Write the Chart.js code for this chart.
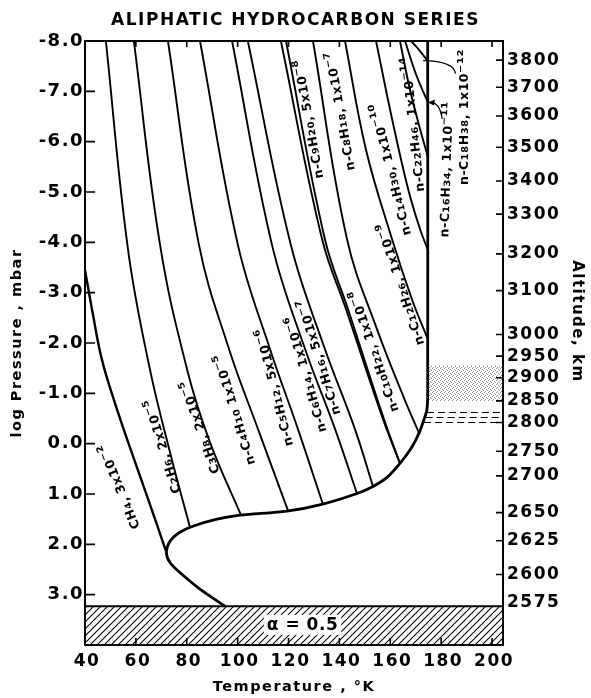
<!DOCTYPE html>
<html>
<head>
<meta charset="utf-8">
<title>Aliphatic Hydrocarbon Series</title>
<script src="https://cdn.jsdelivr.net/npm/chart.js@4.4.1/dist/chart.umd.min.js"></script>
<style>
html,body{margin:0;padding:0;background:#fff;overflow:hidden;}
canvas{display:block;}
</style>
</head>
<body>
<canvas id="chart" width="591" height="698"></canvas>
<script>
// ---------- axis ticks ----------
const temperatureTicks = [40, 60, 80, 100, 120, 140, 160, 180, 200];
const logPressureTicks = [-8, -7, -6, -5, -4, -3, -2, -1, 0, 1, 2, 3];
const altitudeTickLabels = ['3800','3700','3600','3500','3400','3300','3200','3100','3000','2950','2900','2850','2800','2750','2700','2650','2625','2600','2575'];
const altitudeTickLogP = [-7.62,-7.08,-6.51,-5.89,-5.22,-4.56,-3.77,-3.04,-2.17,-1.74,-1.31,-0.85,-0.42,0.15,0.64,1.37,1.93,2.60,3.16];

// ---------- temperature profile ----------
const profileT    = [95.0, 85.2, 77.3, 73.4, 72.0, 73.4, 77.3, 82.4, 91.9, 100.9, 119.4, 133.5, 146.9, 153.2, 158.7, 163.8, 168.2, 171.3, 173.3, 174.4, 174.7, 174.7];
const profileLogP = [3.23, 2.89, 2.56, 2.36, 2.16, 1.94, 1.76, 1.64, 1.50, 1.42, 1.34, 1.20, 0.99, 0.85, 0.67, 0.39, 0.09, -0.21, -0.49, -0.68, -0.98, -8.0];

// ---------- saturation curves (T in K, log P in mbar) ----------
const ch4T  = [40.0, 43.0, 46.5, 51.5, 57.5, 64.8, 72.0];
const ch4P  = [-3.45, -2.6, -1.7, -0.85, 0.05, 1.1, 2.16];
const c2h6T = [48.2, 56.9, 65.5, 73.4, 81.3];
const c2h6P = [-8, -3.86, -1.48, 0.17, 1.67];
const c3h8T = [59.2, 69.5, 80.1, 89.1, 101.3];
const c3h8P = [-8, -3.95, -1.48, -0.03, 1.42];
const c4T   = [72.6, 84.8, 96.6, 108.0, 119.8];
const c4P   = [-8, -3.95, -1.88, -0.29, 1.33];
const c5T   = [85.2, 100.1, 112.7, 123.7, 133.5];
const c5P   = [-8, -3.95, -1.88, -0.29, 1.20];
const c6T   = [97.8, 113.5, 126.5, 138.3, 146.9];
const c6P   = [-8, -3.95, -1.88, -0.29, 0.99];
const c7T   = [104.0, 120.9, 134.3, 146.1, 153.2];
const c7P   = [-8, -3.95, -1.88, -0.29, 0.85];
const c9T   = [117.0, 133.2, 142.6, 157.1, 163.8];
const c9P   = [-8, -4.06, -2.67, -0.49, 0.39];
const c8T   = [119.0, 134.3, 143.4, 157.5, 163.8];
const c8P   = [-8, -4.06, -2.67, -0.49, 0.39];
const c10T  = [129.6, 143.0, 154.8, 165.6, 171.3];
const c10P  = [-8, -4.06, -2.27, -0.88, -0.21];
const c12T  = [142.2, 150.4, 160.7, 168.5, 174.7];
const c12P  = [-8, -5.85, -4.06, -2.87, -2.08];
const c14T  = [154.4, 160.7, 167.0, 171.7, 174.7];
const c14P  = [-8, -6.45, -5.06, -4.26, -3.86];
const c22T  = [163.8, 167.7, 171.7, 174.7];
const c22P  = [-8, -7.04, -6.25, -5.71];
const c16T  = [165.8, 170.1, 174.7];
const c16P  = [-8, -7.34, -6.79];
const c18T  = [168.2, 171.7, 174.7];
const c18P  = [-8, -7.80, -7.60];

// ---------- shaded regions ----------
const albedoT = [40, 204.3];          // alpha = 0.5 layer
const albedoTopLogP = 3.23;
const albedoBottomLogP = 4.0;
const cloudT = [174.8, 204.3];        // stippled haze layer
const cloudTopLogP = -1.545;
const cloudBottomLogP = -0.85;
const dashStartT = [174.4, 173.9, 173.3];
const dashLogP = [-0.62, -0.52, -0.42];
const dashEndT = 204.3;

// ---------- curve labels ----------
const curveLabelText = [
  'CH₄, 3x10⁻²', 'C₂H₆, 2x10⁻⁵', 'C₃H₈, 2x10⁻⁵', 'n-C₄H₁₀ 1x10⁻⁵', 'n-C₅H₁₂, 5x10⁻⁶',
  'n-C₆H₁₄, 1x10⁻⁶', 'n-C₇H₁₆, 5x10⁻⁷', 'n-C₁₀H₂₂, 1x10⁻⁸', 'n-C₁₂H₂₆, 1x10⁻⁹', 'n-C₁₄H₃₀, 1x10⁻¹⁰',
  'n-C₂₂H₄₆, 1x10⁻¹⁴', 'n-C₉H₂₀, 5x10⁻⁸', 'n-C₈H₁₈, 1x10⁻⁷', 'n-C₁₆H₃₄, 1x10⁻¹¹', 'n-C₁₈H₃₈, 1x10⁻¹²'
];
// placement of those labels (layout: data coordinates + rotation in degrees)
const curveLabelPlacement = [
  [53.3, 0.85, -112], [70.3, 0.05, -107], [85.0, -0.33, -109], [98.6, -0.68, -107], [114.3, -1.12, -104],
  [126.7, -1.38, -106], [131.8, -1.72, -107], [153.4, -1.84, -109], [163.9, -3.17, -108], [160.0, -5.45, -104],
  [168.8, -6.35, -96], [127.8, -6.45, -100], [140.2, -6.61, -100], [181.9, -5.45, -88], [188.6, -6.49, -90]
];

// ---------- build datasets ----------
function pts(T, P) { return T.map((t, i) => ({x: t, y: P[i]})); }
function curve(T, P, w, order, tension) {
  return {data: pts(T, P), showLine: true, borderColor: '#000', borderWidth: w, pointRadius: 0,
          tension: tension, fill: false, order: order};
}

function makeHatch() {
  const c = document.createElement('canvas'); c.width = 7; c.height = 7;
  const g = c.getContext('2d');
  g.strokeStyle = '#000'; g.lineWidth = 1.05;
  g.beginPath();
  g.moveTo(-1, 8); g.lineTo(8, -1);
  g.moveTo(-4.5, 4.5); g.lineTo(4.5, -4.5);
  g.moveTo(2.5, 11.5); g.lineTo(11.5, 2.5);
  g.stroke();
  return g.createPattern(c, 'repeat');
}
function makeStipple() {
  const c = document.createElement('canvas'); c.width = 4; c.height = 4;
  const g = c.getContext('2d');
  g.fillStyle = '#ffffff'; g.fillRect(0, 0, 4, 4);
  g.fillStyle = '#8c8c8c';
  [[0,0],[2,1],[1,3],[3,2]].forEach(p => g.fillRect(p[0], p[1], 1, 1));
  return g.createPattern(c, 'repeat');
}

const datasets = [
  {data: pts(albedoT, [albedoTopLogP, albedoTopLogP]), showLine: true, borderColor: '#000', borderWidth: 2,
   pointRadius: 0, fill: {value: albedoBottomLogP}, backgroundColor: makeHatch(), order: 20},
  {data: pts(cloudT, [cloudTopLogP, cloudTopLogP]), showLine: true, borderWidth: 0, borderColor: 'rgba(0,0,0,0)',
   pointRadius: 0, fill: {value: cloudBottomLogP}, backgroundColor: makeStipple(), order: 19},
];
dashLogP.forEach((p, i) => datasets.push({data: pts([dashStartT[i], dashEndT], [p, p]), showLine: true,
   borderColor: '#000', borderWidth: 1.1, borderDash: [7, 4], pointRadius: 0, fill: false, order: 18}));
datasets.push(curve(profileT, profileLogP, 2.8, 0, 0.3));
[[ch4T,ch4P],[c2h6T,c2h6P],[c3h8T,c3h8P],[c4T,c4P],[c5T,c5P],[c6T,c6P],[c7T,c7P],[c9T,c9P],[c8T,c8P],
 [c10T,c10P],[c12T,c12P],[c14T,c14P],[c22T,c22P],[c16T,c16P],[c18T,c18P]].forEach((c, i) =>
   datasets.push(curve(c[0], c[1], i === 0 ? 2.4 : 1.9, 1, 0.4)));

// ---------- rich label text (sub/superscripts drawn a little larger) ----------
const SUBSUP = /[\u2080-\u2089\u2070\u00B9\u00B2\u00B3\u2074-\u2079\u207B]/;
function textRuns(t) {
  const out = [];
  for (const ch of t) {
    const s = SUBSUP.test(ch);
    if (out.length && out[out.length - 1].s === s) out[out.length - 1].t += ch;
    else out.push({t: ch, s});
  }
  return out;
}
function drawRich(ctx, t) {
  const fN = 'bold 12.5px "DejaVu Sans"', fS = 'bold 16px "DejaVu Sans"';
  const runs = textRuns(t);
  let total = 0;
  runs.forEach(r => { ctx.font = r.s ? fS : fN; r.w = ctx.measureText(r.t).width; total += r.w; });
  let xx = -total / 2;
  runs.forEach(r => { ctx.font = r.s ? fS : fN; ctx.fillText(r.t, xx, 4.5); xx += r.w; });
}

// ---------- decoration plugin ----------
const decor = {
  id: 'decor',
  beforeLayout(chart) { chart.ctx.letterSpacing = '1.5px'; },
  beforeDraw(chart) {
    const c = chart.ctx;
    c.letterSpacing = '1.5px';
    c.save(); c.fillStyle = '#fff'; c.fillRect(0, 0, chart.width, chart.height); c.restore();
  },
  afterDatasetsDraw(chart) {
    const {ctx, chartArea: a, scales: {x, y, y2}} = chart;
    ctx.save();
    ctx.strokeStyle = '#000'; ctx.fillStyle = '#000';
    // frame
    ctx.lineWidth = 2;
    ctx.strokeRect(a.left, a.top, a.right - a.left, a.bottom - a.top);
    // inward ticks
    ctx.lineWidth = 1.6;
    ctx.beginPath();
    temperatureTicks.forEach(v => {
      const px = x.getPixelForValue(v);
      ctx.moveTo(px, a.bottom); ctx.lineTo(px, a.bottom - 7);
      ctx.moveTo(px, a.top); ctx.lineTo(px, a.top + 6);
    });
    logPressureTicks.forEach(v => {
      const py = y.getPixelForValue(v);
      ctx.moveTo(a.left, py); ctx.lineTo(a.left + 10, py);
    });
    altitudeTickLogP.forEach(v => {
      if (v > 3.1) return;
      const py = y2.getPixelForValue(v);
      ctx.moveTo(a.right, py); ctx.lineTo(a.right - 7, py);
    });
    ctx.stroke();

    // curve labels
    ctx.letterSpacing = '0.5px';
    ctx.textAlign = 'left'; ctx.textBaseline = 'alphabetic';
    curveLabelText.forEach((t, i) => {
      const [T, P, ang] = curveLabelPlacement[i];
      ctx.save();
      ctx.translate(x.getPixelForValue(T), y.getPixelForValue(P));
      ctx.rotate(ang * Math.PI / 180);
      drawRich(ctx, t);
      ctx.restore();
    });
    ctx.textAlign = 'center'; ctx.textBaseline = 'middle';

    // leader line for C18 and arrow for C16
    ctx.lineWidth = 1.2;
    ctx.beginPath();
    ctx.moveTo(x.getPixelForValue(172.9), y.getPixelForValue(-7.61));
    ctx.quadraticCurveTo(x.getPixelForValue(185.2), y.getPixelForValue(-7.6), x.getPixelForValue(185.6), y.getPixelForValue(-7.35));
    ctx.stroke();
    const ax0 = x.getPixelForValue(180.4), ay0 = y.getPixelForValue(-6.45);
    const ax1 = x.getPixelForValue(175.2), ay1 = y.getPixelForValue(-6.78);
    ctx.beginPath();
    ctx.moveTo(ax0, ay0);
    ctx.quadraticCurveTo(x.getPixelForValue(179.5), y.getPixelForValue(-6.8), ax1, ay1);
    ctx.stroke();
    ctx.beginPath();
    ctx.moveTo(ax1 - 1, ay1);
    ctx.lineTo(ax1 + 6, ay1 - 3);
    ctx.lineTo(ax1 + 5, ay1 + 3);
    ctx.closePath(); ctx.fill();

    // alpha label in the hatched layer
    ctx.font = 'bold 17px "DejaVu Sans"';
    ctx.letterSpacing = '0.5px';
    const ap = [x.getPixelForValue(125.5), y.getPixelForValue(3.6)];
    const w = ctx.measureText('α = 0.5').width;
    ctx.fillStyle = '#fff';
    ctx.fillRect(ap[0] - w / 2 - 3, ap[1] - 10, w + 6, 20);
    ctx.fillStyle = '#000';
    ctx.fillText('α = 0.5', ap[0], ap[1] + 1);

    // right axis title
    ctx.font = 'bold 15px "DejaVu Sans"';
    ctx.letterSpacing = '1.5px';
    ctx.save();
    ctx.translate(a.right + 74, y.getPixelForValue(-2.43));
    ctx.rotate(Math.PI / 2);
    ctx.fillText('Altitude, km', 0, 0);
    ctx.restore();
    ctx.restore();
  }
};

Chart.defaults.font.family = '"DejaVu Sans", sans-serif';
Chart.defaults.color = '#000';

new Chart(document.getElementById('chart'), {
  type: 'scatter',
  data: {datasets},
  options: {
    responsive: false, animation: false, devicePixelRatio: 1,
    layout: {padding: 0},
    plugins: {
      legend: {display: false}, tooltip: {enabled: false},
      title: {display: true, text: 'ALIPHATIC HYDROCARBON SERIES', font: {size: 17, weight: 'bold'},
              padding: {top: 10.5, bottom: 10.1}, color: '#000'}
    },
    scales: {
      x: {
        type: 'linear', position: 'bottom', min: 40, max: 204.3,
        afterBuildTicks: s => { s.ticks = temperatureTicks.map(v => ({value: v})); },
        afterFit: s => { s.height = 53; },
        grid: {display: false, drawTicks: false}, border: {display: false},
        ticks: {font: {size: 17, weight: 'bold'}, padding: 6, labelOffset: 2, autoSkip: false, maxRotation: 0,
                callback: v => String(v)},
        title: {display: true, text: 'Temperature , °K', font: {size: 14.5, weight: 'bold'}, padding: {top: 0, bottom: 2}}
      },
      y: {
        type: 'linear', position: 'left', reverse: true, min: -8, max: 4,
        afterBuildTicks: s => { s.ticks = logPressureTicks.map(v => ({value: v})); },
        afterFit: s => { s.width = 85; },
        grid: {display: false, drawTicks: false}, border: {display: false},
        ticks: {font: {size: 18, weight: 'bold'}, padding: 1, autoSkip: false, callback: v => v.toFixed(1)},
        title: {display: true, text: 'log Pressure , mbar', font: {size: 14.5, weight: 'bold'}, padding: {top: 9, bottom: 0}}
      },
      y2: {
        type: 'linear', position: 'right', reverse: true, min: -8, max: 4,
        afterBuildTicks: s => { s.ticks = altitudeTickLogP.map(v => ({value: v})); },
        afterFit: s => { s.width = 88; },
        grid: {display: false, drawTicks: false}, border: {display: false},
        ticks: {font: {size: 17, weight: 'bold'}, padding: 4, autoSkip: false,
                callback: (v, i) => altitudeTickLabels[i]}
      }
    }
  },
  plugins: [decor]
});
</script>
</body>
</html>
